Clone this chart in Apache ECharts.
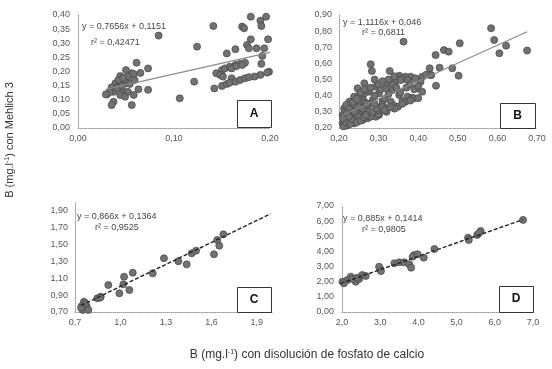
<!DOCTYPE html>
<html><head><meta charset="utf-8">
<script src="https://cdn.jsdelivr.net/npm/echarts@6/dist/echarts.min.js"></script>
<style>html,body{margin:0;padding:0;background:#fff}#c{width:552px;height:369px}</style>
</head><body><div id="c"></div>
<script>
// ---- data ----
const ptsA = [[0.061,0.231],[0.056,0.194],[0.044,0.184],[0.039,0.158],[0.035,0.144],[0.030,0.119],[0.037,0.128],[0.044,0.158],[0.049,0.170],[0.052,0.182],[0.058,0.191],[0.047,0.128],[0.052,0.128],[0.058,0.117],[0.063,0.137],[0.037,0.093],[0.035,0.081],[0.056,0.081],[0.073,0.211],[0.073,0.135],[0.044,0.117],[0.049,0.111],[0.042,0.170],[0.047,0.177],[0.051,0.159],[0.041,0.142],[0.046,0.149],[0.054,0.156],[0.059,0.170],[0.033,0.127],[0.050,0.205],[0.065,0.195],[0.029,0.119],
[0.084,0.327],[0.106,0.105],[0.121,0.164],[0.124,0.288],[0.141,0.361],
[0.180,0.394],[0.196,0.394],[0.190,0.380],[0.191,0.361],[0.171,0.359],[0.173,0.353],[0.180,0.314],[0.198,0.314],[0.176,0.294],[0.178,0.282],[0.186,0.282],[0.194,0.282],[0.164,0.279],[0.155,0.264],[0.192,0.255],[0.191,0.227],[0.199,0.199],[0.197,0.196],[0.190,0.188],[0.184,0.182],[0.144,0.194],[0.150,0.205],[0.153,0.211],[0.158,0.217],[0.164,0.223],[0.169,0.227],[0.174,0.231],[0.148,0.188],[0.151,0.182],[0.160,0.211],[0.165,0.219],[0.171,0.223],[0.142,0.140],[0.150,0.149],[0.155,0.156],[0.160,0.176],[0.158,0.160],[0.164,0.164],[0.169,0.170],[0.174,0.176],[0.178,0.180]];
const ptsB = [[0.584,0.818],[0.592,0.745],[0.622,0.710],[0.605,0.663],[0.675,0.680],[0.505,0.725],[0.465,0.683],[0.477,0.673],[0.444,0.652],[0.363,0.735],[0.454,0.574],[0.486,0.570],[0.429,0.570],[0.433,0.528],[0.502,0.524],[0.445,0.462],[0.410,0.518],[0.406,0.487],[0.381,0.518],[0.393,0.508],[0.368,0.518],[0.398,0.446],[0.410,0.425],
[0.280,0.595],[0.283,0.553],[0.328,0.553],[0.352,0.524],[0.360,0.508],[0.373,0.497],[0.343,0.487],[0.264,0.477],[0.293,0.456],[0.247,0.446],[0.318,0.446],[0.335,0.435],[0.276,0.425],[0.301,0.415],[0.352,0.404],[0.373,0.394],[0.238,0.394],[0.260,0.384],[0.285,0.373],[0.310,0.367],[0.331,0.363],[0.385,0.388],[0.226,0.363],[0.251,0.343],[0.272,0.332],[0.297,0.326],[0.318,0.322],[0.339,0.338],[0.360,0.367],[0.213,0.322],[0.234,0.312],[0.260,0.291],[0.280,0.285],[0.301,0.281],[0.209,0.281],[0.226,0.260],[0.247,0.250],[0.272,0.260],[0.293,0.270],[0.209,0.229],[0.222,0.219],[0.238,0.229],[0.213,0.250],[0.230,0.343],[0.218,0.343],[0.243,0.291],[0.264,0.415],[0.349,0.332],[0.368,0.363],[0.389,0.384],[0.356,0.497],[0.431,0.528],
[0.220,0.215],[0.240,0.235],[0.260,0.250],[0.280,0.270],[0.300,0.285],[0.320,0.300],[0.340,0.320],[0.360,0.350],[0.380,0.370],[0.400,0.385],
[0.215,0.300],[0.225,0.320],[0.235,0.280],[0.250,0.400],[0.255,0.310],[0.265,0.360],[0.270,0.430],[0.290,0.400],[0.305,0.440],[0.315,0.380],[0.325,0.410],[0.335,0.470],[0.345,0.450],[0.300,0.310],[0.250,0.270],[0.230,0.240],[0.275,0.300],[0.215,0.265],[0.310,0.345],[0.355,0.420],[0.370,0.450],[0.380,0.470],[0.390,0.440],[0.400,0.460],[0.420,0.530],[0.280,0.350],[0.290,0.500],[0.320,0.480],
[0.212,0.210],[0.218,0.235],[0.228,0.225],[0.232,0.255],[0.245,0.235],[0.255,0.245],[0.262,0.265],[0.268,0.280],[0.285,0.300],[0.295,0.320],[0.220,0.290],[0.225,0.270],[0.240,0.300],[0.250,0.330],[0.260,0.320],[0.270,0.350],[0.290,0.350],[0.310,0.330],[0.315,0.310],[0.330,0.330],[0.210,0.260],[0.235,0.360],[0.245,0.380],[0.255,0.420],[0.265,0.440],[0.280,0.450],[0.300,0.470],[0.310,0.490],[0.325,0.500],[0.340,0.520]];
const ptsC = [[0.759,0.822],[0.744,0.771],[0.777,0.763],[0.751,0.724],[0.788,0.724],[0.847,0.862],[0.870,0.881],[0.920,1.019],[0.993,0.921],[1.059,0.960],[1.019,1.027],[1.024,1.117],[1.081,1.165],[1.213,1.157],[1.287,1.335],[1.382,1.300],[1.437,1.263],[1.470,1.394],[1.499,1.425],[1.617,1.382],[1.639,1.551],[1.652,1.484],[1.679,1.618],[0.865,0.869],[0.770,0.800],[0.740,0.750]];
const ptsD = [[2.01,2.00],[2.14,2.11],[2.23,2.33],[2.36,2.00],[2.45,2.18],[2.53,2.44],[2.62,2.38],[2.27,2.18],[2.40,2.27],[2.05,1.90],[3.00,2.84],[2.97,2.99],[3.02,2.70],[3.37,3.22],[3.50,3.28],[3.63,3.28],[3.76,3.15],[3.81,2.93],[3.89,3.76],[3.85,3.65],[3.98,3.81],[4.14,3.59],[4.42,4.16],[5.30,4.91],[5.32,4.76],[5.54,5.09],[5.63,5.35],[5.58,5.20],[6.74,6.08]];
const trendA = [[0.029,0.137],[0.200,0.268]];
const trendB = [[0.208,0.277],[0.675,0.796]];
const trendC = [[0.740,0.777],[1.990,1.860]];
const trendD = [[1.970,1.885],[6.740,6.106]];
const ticksCx = [0.7,1.0,1.3,1.6,1.9];
const ticksCy = [0.7,0.9,1.1,1.3,1.5,1.7,1.9];
const eqs = ['y = 0,7656x + 0,1151','y = 1,1116x + 0,046','y = 0,866x + 0,1364','y = 0,885x + 0,1414'];
const r2s = ['r² = 0,42471','r² = 0,6811','r² = 0,9525','r² = 0,9805'];
const letters = ['A','B','C','D'];

// ---- chart ----
const FONT = 'Liberation Sans, Arial, sans-serif';
const fmt = d => v => v.toFixed(d).replace('.', ',');
const grids = [
  {left:78, top:15, width:192, height:113},
  {left:339, top:15, width:198, height:113},
  {left:75, top:202, width:197, height:110},
  {left:342, top:206, width:191, height:106}
];
const axLine = {show:true, lineStyle:{color:'#9a9a9a', type:'dotted', width:1}};
function xAx(i, o){ return Object.assign({type:'value', gridIndex:i, axisLine:axLine, axisTick:{show:false}, splitLine:{show:false}}, o); }
function lab(d, extra){ return Object.assign({color:'#555', fontSize:9, fontFamily:FONT, formatter:fmt(d), margin:6}, extra||{}); }
const xAxis = [
  xAx(0,{min:0,max:0.2,interval:0.1,axisLabel:lab(2)}),
  xAx(1,{min:0.2,max:0.7,interval:0.1,axisLabel:lab(2)}),
  xAx(2,{min:0.7,max:2.0,axisLabel:lab(1,{customValues:ticksCx})}),
  xAx(3,{min:2,max:7,interval:1,axisLabel:lab(1)})
];
const yAxis = [
  xAx(0,{min:0,max:0.4,interval:0.05,axisLabel:lab(2,{margin:8})}),
  xAx(1,{min:0.2,max:0.9,interval:0.1,axisLabel:lab(2,{margin:7})}),
  xAx(2,{min:0.7,max:2.0,axisLabel:lab(2,{customValues:ticksCy,margin:7})}),
  xAx(3,{min:0,max:7,interval:1,axisLabel:lab(2,{margin:8})})
];
const pts = [ptsA, ptsB, ptsC, ptsD];
const trends = [trendA, trendB, trendC, trendD];
const series = [];
pts.forEach((p,i)=>{
  series.push({type:'scatter', xAxisIndex:i, yAxisIndex:i, data:p, symbolSize:7,
    itemStyle:{color:'#727272', borderColor:'#4a4a4a', borderWidth:0.8, opacity:1}, z:3});
  series.push({type:'line', xAxisIndex:i, yAxisIndex:i, data:trends[i], symbol:'none', z:4,
    lineStyle: i<2 ? {color:'#8a8a8a', width:1.2, type:'solid'} : {color:'#222', width:1.4, type:[4,2]}});
});
const eqPos = [[82,22,91,38],[343,18,362,28],[77,212,95,223],[343,214,362,225]];
const boxPos = [[237,100,34,27],[500,103,35,25],[237,287,34,25],[499,286,34,26]];
const graphic = [];
eqs.forEach((e,i)=>{
  graphic.push({type:'text', left:eqPos[i][0], top:eqPos[i][1], z:10, style:{text:e, fill:'#444', font:'9px '+FONT}});
  graphic.push({type:'text', left:eqPos[i][2], top:eqPos[i][3], z:10, style:{text:r2s[i], fill:'#444', font:'9px '+FONT}});
  const b = boxPos[i];
  graphic.push({type:'rect', left:b[0], top:b[1], z:10, shape:{width:b[2], height:b[3]}, style:{fill:'#fff', stroke:'#333', lineWidth:1}});
  graphic.push({type:'text', x:b[0]+b[2]/2, y:b[1]+b[3]/2, z:11, style:{text:letters[i], fill:'#111', font:'bold 12px '+FONT, align:'center', verticalAlign:'middle'}});
});
const supRich = {s:{fontSize:7, fontFamily:FONT, fill:'#333', verticalAlign:'top', padding:[0,0,5,0]}};
graphic.push({type:'text', x:10, y:140, rotation:Math.PI/2, z:10,
  style:{text:'B (mg.l{s|-1}) con Mehlich 3', fill:'#333', font:'11px '+FONT, align:'center', verticalAlign:'middle', rich:supRich}});
graphic.push({type:'text', x:307, y:355, z:10,
  style:{text:'B (mg.l{s|-1}) con disolución de fosfato de calcio', fill:'#333', font:'12px '+FONT, align:'center', verticalAlign:'middle', rich:supRich}});
const chart = echarts.init(document.getElementById('c'), null, {renderer:'canvas'});
chart.setOption({animation:false, backgroundColor:'#fff', grid:grids, xAxis, yAxis, series, graphic});
</script></body></html>
